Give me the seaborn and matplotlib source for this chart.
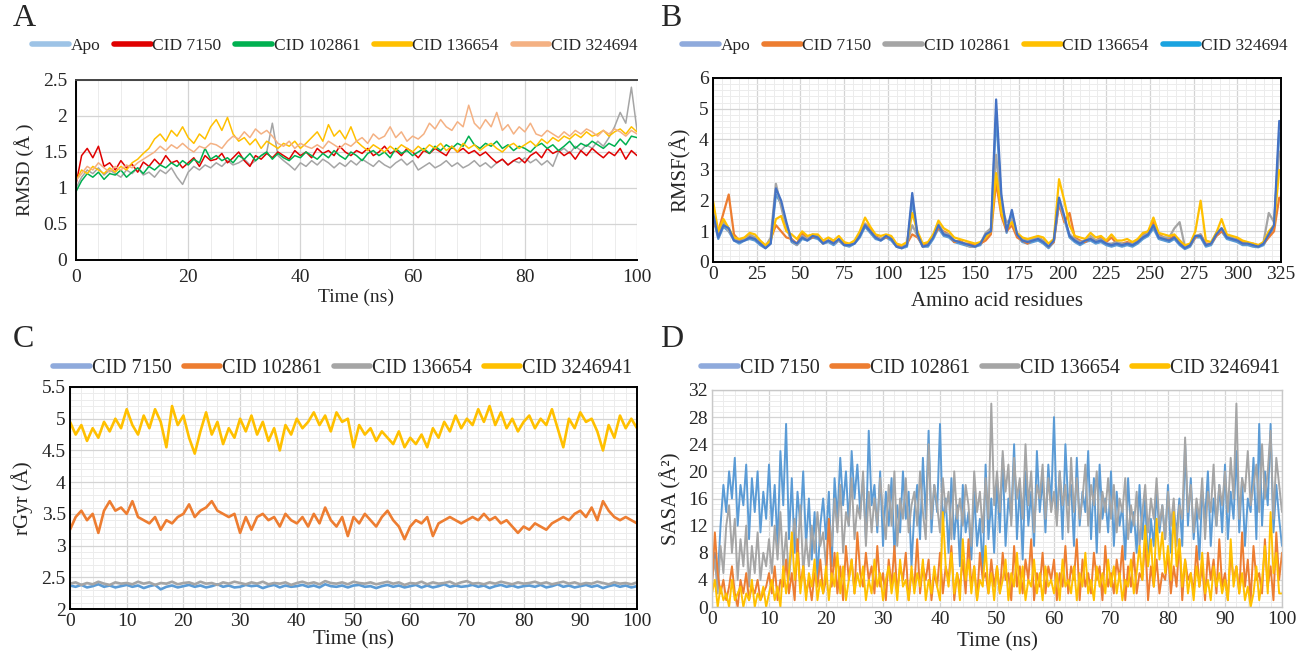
import numpy as np
import pandas as pd
import matplotlib
matplotlib.use("Agg")
import matplotlib.pyplot as plt
import seaborn as sns
from matplotlib.lines import Line2D
from matplotlib.ticker import MultipleLocator, FormatStrFormatter

# ---------------- Panel A: RMSD (Å), one value per ns ----------------
time_a = np.arange(0, 101, 1)

rmsd_apo = [1.00, 1.15, 1.25, 1.20, 1.28, 1.18, 1.25, 1.20, 1.15, 1.25,
            1.20, 1.28, 1.18, 1.22, 1.15, 1.25, 1.20, 1.28, 1.15, 1.05,
            1.22, 1.30, 1.25, 1.32, 1.28, 1.35, 1.30, 1.38, 1.32, 1.35,
            1.40, 1.32, 1.38, 1.45, 1.50, 1.90, 1.45, 1.38, 1.32, 1.25,
            1.35, 1.30, 1.38, 1.32, 1.40, 1.35, 1.28, 1.35, 1.30, 1.38,
            1.32, 1.40, 1.35, 1.30, 1.38, 1.32, 1.28, 1.35, 1.40, 1.32,
            1.38, 1.25, 1.30, 1.35, 1.28, 1.32, 1.38, 1.30, 1.35, 1.28,
            1.32, 1.38, 1.30, 1.35, 1.28, 1.35, 1.40, 1.32, 1.38, 1.35,
            1.42, 1.35, 1.40, 1.32, 1.38, 1.30, 1.50, 1.55, 1.48, 1.58,
            1.52, 1.60, 1.55, 1.65, 1.58, 1.70, 1.85, 2.05, 1.90, 2.40,
            1.80]
rmsd_7150 = [1.05, 1.45, 1.55, 1.42, 1.58, 1.30, 1.35, 1.25, 1.38, 1.28,
             1.33, 1.22, 1.36, 1.30, 1.40, 1.32, 1.45, 1.35, 1.38, 1.28,
             1.35, 1.42, 1.30, 1.45, 1.38, 1.40, 1.48, 1.35, 1.42, 1.50,
             1.38, 1.30, 1.45, 1.40, 1.48, 1.42, 1.50, 1.45, 1.40, 1.52,
             1.45, 1.50, 1.42, 1.55, 1.48, 1.52, 1.45, 1.58, 1.50, 1.45,
             1.52, 1.48, 1.55, 1.45, 1.50, 1.58, 1.48, 1.52, 1.45, 1.55,
             1.50, 1.42, 1.52, 1.48, 1.55, 1.50, 1.45, 1.58, 1.50, 1.55,
             1.48, 1.52, 1.45, 1.50, 1.42, 1.35, 1.40, 1.32, 1.38, 1.42,
             1.35, 1.45, 1.50, 1.42, 1.55, 1.48, 1.52, 1.45, 1.50, 1.40,
             1.52, 1.45, 1.55, 1.48, 1.42, 1.50, 1.45, 1.55, 1.40, 1.52,
             1.45]
rmsd_102861 = [0.95, 1.10, 1.20, 1.15, 1.22, 1.12, 1.20, 1.18, 1.25, 1.15,
               1.22, 1.28, 1.20, 1.30, 1.25, 1.32, 1.28, 1.35, 1.30, 1.38,
               1.32, 1.40, 1.35, 1.55, 1.40, 1.45, 1.38, 1.42, 1.35, 1.45,
               1.40, 1.48, 1.38, 1.45, 1.50, 1.40, 1.48, 1.42, 1.38, 1.45,
               1.42, 1.50, 1.45, 1.40, 1.48, 1.42, 1.52, 1.45, 1.40, 1.50,
               1.45, 1.38, 1.48, 1.52, 1.45, 1.50, 1.42, 1.55, 1.48, 1.52,
               1.45, 1.50, 1.55, 1.48, 1.58, 1.52, 1.60, 1.55, 1.62, 1.58,
               1.72, 1.60, 1.55, 1.62, 1.58, 1.65, 1.55, 1.60, 1.52, 1.58,
               1.55, 1.50, 1.58, 1.62, 1.55, 1.60, 1.52, 1.58, 1.65, 1.55,
               1.62, 1.58, 1.65, 1.60, 1.55, 1.62, 1.58, 1.68, 1.60, 1.72,
               1.70]
rmsd_136654 = [1.10, 1.25, 1.20, 1.30, 1.25, 1.20, 1.28, 1.22, 1.30, 1.25,
               1.35, 1.40, 1.48, 1.55, 1.68, 1.75, 1.65, 1.80, 1.72, 1.85,
               1.70, 1.62, 1.75, 1.68, 1.85, 1.95, 1.80, 1.98, 1.75, 1.65,
               1.70, 1.60, 1.68, 1.55, 1.65, 1.60, 1.55, 1.62, 1.58, 1.65,
               1.55, 1.62, 1.70, 1.78, 1.65, 1.88, 1.72, 1.80, 1.68, 1.85,
               1.65, 1.58, 1.52, 1.60, 1.55, 1.50, 1.58, 1.52, 1.60, 1.55,
               1.50, 1.58, 1.52, 1.60, 1.55, 1.62, 1.52, 1.58, 1.50, 1.62,
               1.55, 1.60, 1.52, 1.58, 1.62, 1.55, 1.50, 1.58, 1.62, 1.55,
               1.60, 1.65, 1.58, 1.68, 1.62, 1.70, 1.65, 1.72, 1.68, 1.75,
               1.70, 1.78, 1.72, 1.75, 1.80, 1.72, 1.78, 1.82, 1.75, 1.85,
               1.78]
rmsd_324694 = [1.10, 1.20, 1.30, 1.25, 1.35, 1.28, 1.22, 1.30, 1.25, 1.32,
               1.28, 1.35, 1.40, 1.45, 1.50, 1.58, 1.52, 1.60, 1.55, 1.62,
               1.55, 1.50, 1.58, 1.55, 1.62, 1.60, 1.55, 1.65, 1.72, 1.68,
               1.78, 1.70, 1.82, 1.75, 1.80, 1.72, 1.62, 1.58, 1.65, 1.55,
               1.62, 1.58, 1.55, 1.60, 1.55, 1.65, 1.60, 1.55, 1.62, 1.58,
               1.65, 1.70, 1.62, 1.75, 1.68, 1.72, 1.85, 1.70, 1.78, 1.65,
               1.72, 1.68, 1.75, 1.90, 1.82, 1.95, 1.85, 1.80, 1.92, 1.85,
               2.15, 1.90, 1.82, 1.95, 1.85, 2.05, 1.80, 1.88, 1.75, 1.85,
               1.78, 1.90, 1.75, 1.72, 1.80, 1.75, 1.70, 1.78, 1.72, 1.80,
               1.75, 1.82, 1.78, 1.72, 1.80, 1.75, 1.82, 1.78, 1.72, 1.80,
               1.75]

# ---------------- Panel B: RMSF (Å), every third residue ----------------
residues = np.arange(0, 326, 3)

rmsf_apo = [1.6, 0.8, 1.2, 1.1, 0.7, 0.65, 0.7, 0.8, 0.75, 0.6,
            0.45, 0.6, 2.4, 2.0, 1.3, 0.7, 0.6, 0.8, 0.7, 0.85,
            0.8, 0.6, 0.7, 0.6, 0.75, 0.55, 0.55, 0.6, 0.85, 1.2,
            1.0, 0.8, 0.7, 0.85, 0.75, 0.5, 0.45, 0.55, 2.25, 0.9,
            0.5, 0.55, 0.8, 1.2, 0.9, 0.85, 0.7, 0.65, 0.6, 0.55,
            0.5, 0.6, 0.9, 1.0, 5.3, 2.2, 1.0, 1.7, 0.9, 0.7,
            0.65, 0.7, 0.75, 0.65, 0.5, 0.7, 2.1, 1.5, 0.85, 0.7,
            0.6, 0.7, 0.75, 0.65, 0.7, 0.6, 0.55, 0.6, 0.55, 0.6,
            0.55, 0.65, 0.8, 0.9, 1.2, 0.8, 0.75, 0.7, 0.8, 0.6,
            0.45, 0.55, 0.85, 0.85, 0.55, 0.6, 0.9, 1.1, 0.8, 0.75,
            0.7, 0.6, 0.6, 0.55, 0.5, 0.6, 0.9, 1.2, 4.6]
rmsf_7150 = [1.3, 1.0, 1.6, 2.2, 0.9, 0.7, 0.75, 0.85, 0.8, 0.65,
             0.5, 0.75, 1.2, 1.0, 0.8, 0.75, 0.6, 0.95, 0.75, 0.8,
             0.85, 0.65, 0.7, 0.65, 0.7, 0.6, 0.55, 0.65, 0.9, 1.25,
             1.1, 0.85, 0.75, 0.8, 0.8, 0.55, 0.5, 0.6, 0.9, 0.8,
             0.55, 0.6, 0.85, 1.1, 1.0, 0.9, 0.65, 0.7, 0.6, 0.6,
             0.55, 0.6, 0.7, 0.9, 2.6, 1.5, 1.0, 1.2, 0.8, 0.7,
             0.6, 0.75, 0.8, 0.7, 0.5, 0.65, 1.9, 1.3, 1.6, 0.8,
             0.7, 0.65, 0.8, 0.7, 0.8, 0.65, 0.8, 0.6, 0.6, 0.65,
             0.6, 0.7, 0.9, 1.0, 1.3, 0.9, 0.8, 0.75, 0.85, 0.7,
             0.5, 0.55, 0.8, 0.9, 0.6, 0.6, 0.85, 1.0, 0.85, 0.75,
             0.75, 0.65, 0.6, 0.6, 0.55, 0.6, 0.8, 1.0, 2.1]
rmsf_102861 = [1.5, 0.9, 1.3, 1.0, 0.8, 0.65, 0.75, 0.9, 0.8, 0.6,
               0.5, 0.8, 2.55, 1.8, 1.1, 0.7, 0.55, 0.85, 0.75, 0.9,
               0.85, 0.6, 0.7, 0.6, 0.7, 0.55, 0.55, 0.65, 0.9, 1.25,
               1.0, 0.8, 0.75, 0.85, 0.8, 0.5, 0.45, 0.6, 1.2, 0.85,
               0.5, 0.55, 0.85, 1.25, 0.95, 0.9, 0.7, 0.65, 0.6, 0.5,
               0.5, 0.6, 0.95, 1.1, 3.5, 1.8, 1.3, 1.4, 0.9, 0.75,
               0.7, 0.75, 0.8, 0.7, 0.5, 0.7, 2.0, 1.4, 0.9, 0.75,
               0.65, 0.7, 0.85, 0.7, 0.75, 0.6, 0.6, 0.65, 0.6, 0.6,
               0.6, 0.65, 0.85, 0.95, 1.2, 0.85, 0.8, 0.8, 1.1, 1.3,
               0.5, 0.55, 0.85, 0.9, 0.55, 0.6, 0.95, 1.1, 0.85, 0.8,
               0.7, 0.6, 0.6, 0.55, 0.5, 0.65, 1.6, 1.3, 3.6]
rmsf_136654 = [2.0, 1.0, 1.4, 1.1, 0.8, 0.75, 0.8, 0.95, 0.9, 0.7,
               0.55, 0.7, 1.4, 1.5, 1.0, 0.9, 0.75, 1.0, 0.85, 0.9,
               0.9, 0.7, 0.8, 0.7, 0.85, 0.65, 0.6, 0.7, 1.0, 1.45,
               1.15, 0.9, 0.85, 0.9, 0.85, 0.6, 0.55, 0.65, 1.6, 1.0,
               0.6, 0.65, 0.9, 1.35, 1.1, 1.0, 0.8, 0.75, 0.7, 0.65,
               0.6, 0.65, 0.8, 1.0, 2.9, 1.6, 1.1, 1.3, 0.95, 0.8,
               0.75, 0.8, 0.85, 0.8, 0.6, 0.75, 2.7, 2.0, 1.2, 0.85,
               0.8, 0.75, 0.95, 0.8, 0.85, 0.7, 0.9, 0.7, 0.7, 0.75,
               0.65, 0.75, 0.95, 1.0, 1.45, 0.95, 0.9, 0.85, 0.9, 0.7,
               0.55, 0.6, 1.0, 2.0, 0.7, 0.65, 0.95, 1.4, 0.9, 0.85,
               0.8, 0.7, 0.65, 0.6, 0.55, 0.65, 1.0, 1.2, 3.0]
rmsf_324694 = [1.5, 0.75, 1.15, 1.0, 0.7, 0.6, 0.7, 0.75, 0.7, 0.55,
               0.45, 0.6, 2.2, 1.9, 1.2, 0.65, 0.55, 0.75, 0.7, 0.8,
               0.75, 0.6, 0.65, 0.55, 0.7, 0.55, 0.5, 0.6, 0.8, 1.15,
               0.95, 0.75, 0.7, 0.8, 0.7, 0.5, 0.45, 0.5, 2.0, 0.85,
               0.5, 0.5, 0.75, 1.1, 0.85, 0.8, 0.65, 0.6, 0.55, 0.5,
               0.5, 0.55, 0.85, 0.95, 4.8, 2.0, 0.95, 1.6, 0.85, 0.65,
               0.6, 0.65, 0.7, 0.6, 0.45, 0.65, 2.0, 1.4, 0.8, 0.65,
               0.55, 0.65, 0.7, 0.6, 0.65, 0.55, 0.5, 0.55, 0.5, 0.55,
               0.5, 0.6, 0.75, 0.85, 1.1, 0.75, 0.7, 0.65, 0.75, 0.55,
               0.42, 0.5, 0.8, 0.8, 0.5, 0.55, 0.85, 1.0, 0.75, 0.7,
               0.65, 0.55, 0.55, 0.5, 0.48, 0.55, 0.85, 1.1, 4.2]

# ---------------- Panel C: rGyr (Å), one value per ns ----------------
time_c = np.arange(0, 101, 1)

rgyr_7150 = [2.37, 2.35, 2.38, 2.34, 2.36, 2.39, 2.35, 2.37, 2.34, 2.36,
             2.38, 2.35, 2.37, 2.33, 2.36, 2.38, 2.31, 2.35, 2.37, 2.34,
             2.36, 2.38, 2.35, 2.37, 2.34, 2.36, 2.39, 2.35, 2.37, 2.34,
             2.35, 2.38, 2.36, 2.37, 2.33, 2.36, 2.38, 2.34, 2.37, 2.35,
             2.36, 2.38, 2.35, 2.37, 2.34, 2.39, 2.36, 2.35, 2.37, 2.34,
             2.37, 2.38, 2.35, 2.36, 2.33, 2.36, 2.38, 2.35, 2.37, 2.34,
             2.36, 2.38, 2.34, 2.37, 2.34, 2.36, 2.39, 2.35, 2.37, 2.35,
             2.36, 2.38, 2.35, 2.37, 2.33, 2.36, 2.38, 2.35, 2.37, 2.34,
             2.36, 2.37, 2.35, 2.38, 2.34, 2.36, 2.39, 2.35, 2.37, 2.34,
             2.36, 2.38, 2.35, 2.37, 2.33, 2.36, 2.38, 2.35, 2.37, 2.34,
             2.36]
rgyr_102861 = [3.25, 3.45, 3.55, 3.40, 3.50, 3.20, 3.55, 3.70, 3.55, 3.60,
               3.50, 3.70, 3.45, 3.40, 3.35, 3.45, 3.25, 3.40, 3.35, 3.45,
               3.50, 3.65, 3.45, 3.55, 3.60, 3.70, 3.55, 3.50, 3.45, 3.50,
               3.20, 3.45, 3.25, 3.45, 3.50, 3.40, 3.45, 3.30, 3.50, 3.40,
               3.35, 3.45, 3.30, 3.50, 3.35, 3.60, 3.40, 3.30, 3.45, 3.15,
               3.45, 3.35, 3.50, 3.40, 3.30, 3.45, 3.55, 3.40, 3.30, 3.10,
               3.30, 3.40, 3.35, 3.45, 3.15, 3.35, 3.40, 3.45, 3.40, 3.35,
               3.40, 3.45, 3.40, 3.50, 3.40, 3.45, 3.35, 3.40, 3.30, 3.20,
               3.30, 3.25, 3.35, 3.30, 3.25, 3.35, 3.40, 3.45, 3.40, 3.50,
               3.55, 3.45, 3.60, 3.40, 3.70, 3.55, 3.45, 3.40, 3.45, 3.40,
               3.35]
rgyr_136654 = [2.40, 2.42, 2.38, 2.41, 2.39, 2.43, 2.40, 2.38, 2.42, 2.40,
               2.41, 2.39, 2.43, 2.40, 2.42, 2.38, 2.41, 2.40, 2.43, 2.39,
               2.41, 2.42, 2.39, 2.43, 2.40, 2.41, 2.38, 2.42, 2.40, 2.43,
               2.41, 2.39, 2.42, 2.40, 2.43, 2.39, 2.41, 2.40, 2.42, 2.38,
               2.41, 2.43, 2.40, 2.42, 2.39, 2.44, 2.41, 2.40, 2.42, 2.39,
               2.43, 2.41, 2.40, 2.42, 2.39, 2.41, 2.43, 2.40, 2.42, 2.38,
               2.41, 2.40, 2.43, 2.39, 2.42, 2.40, 2.41, 2.43, 2.39, 2.42,
               2.44, 2.40, 2.41, 2.39, 2.42, 2.40, 2.43, 2.41, 2.39, 2.42,
               2.40, 2.41, 2.43, 2.40, 2.42, 2.39, 2.41, 2.43, 2.40, 2.42,
               2.39, 2.41, 2.40, 2.43, 2.41, 2.39, 2.42, 2.40, 2.41, 2.39,
               2.42]
rgyr_3246941 = [4.95, 4.75, 4.90, 4.65, 4.85, 4.70, 4.95, 4.80, 5.00, 4.85,
                5.15, 4.90, 4.75, 5.05, 4.85, 5.15, 4.95, 4.55, 5.20, 4.90,
                5.05, 4.70, 4.45, 4.80, 5.10, 4.75, 4.95, 4.60, 4.85, 4.70,
                5.00, 4.80, 5.05, 4.75, 4.95, 4.65, 4.85, 4.50, 4.90, 4.75,
                5.00, 4.85, 4.95, 5.10, 4.90, 5.05, 4.80, 5.10, 4.95, 5.00,
                4.55, 4.90, 4.75, 4.85, 4.65, 4.80, 4.70, 4.60, 4.80, 4.55,
                4.70, 4.60, 4.75, 4.55, 4.85, 4.70, 4.95, 4.80, 5.05, 4.85,
                5.00, 4.90, 5.15, 4.95, 5.20, 4.90, 5.10, 4.85, 5.00, 4.80,
                4.95, 5.05, 4.85, 5.00, 4.90, 5.15, 4.85, 4.55, 5.00, 4.85,
                5.10, 4.95, 5.00, 4.80, 4.50, 4.90, 4.70, 5.05, 4.85, 5.00,
                4.85]

# ---------------- Panel D: SASA (Å²), one value per 0.5 ns ----------------
time_d = np.arange(0, 100.5, 0.5)

sasa_7150 = [5, 8, 4, 12, 18, 14, 20, 16, 22, 12, 18, 15, 21, 10, 19, 14, 20, 11, 17, 13,
             21, 12, 18, 9, 23, 15, 27, 10, 19, 8, 17, 12, 20, 9, 16, 7, 14, 4, 12, 16,
             10, 17, 6, 19, 13, 22, 15, 20, 12, 23, 16, 21, 14, 19, 10, 26, 15, 18, 11, 20,
             9, 17, 12, 19, 8, 15, 11, 20, 13, 17, 6, 14, 18, 10, 22, 13, 26, 11, 18, 14,
             27, 12, 16, 8, 19, 10, 15, 6, 18, 11, 14, 7, 17, 9, 13, 5, 21, 10, 16, 8,
             19, 11, 22, 9, 16, 13, 24, 10, 18, 7, 20, 12, 17, 9, 23, 14, 19, 11, 21, 15,
             28, 13, 20, 10, 24, 15, 18, 9, 22, 12, 17, 14, 23, 10, 19, 8, 21, 13, 16, 11,
             20, 9, 17, 12, 15, 7, 19, 11, 14, 8, 18, 10, 16, 6, 13, 9, 17, 11, 15, 10,
             18, 8, 14, 11, 16, 9, 24, 12, 19, 10, 15, 7, 17, 13, 20, 9, 16, 12, 18, 11,
             21, 10, 17, 13, 23, 11, 19, 9, 16, 14, 22, 10, 27, 12, 20, 15, 27, 11, 18, 13,
             9]
sasa_102861 = [3, 11, 5, 2, 4, 1, 3, 6, 2, 0, 4, 2, 5, 1, 3, 2, 4, 1, 2, 3,
               5, 2, 6, 1, 4, 3, 7, 2, 5, 1, 10, 3, 6, 2, 4, 1, 5, 3, 7, 2,
               4, 13, 3, 8, 2, 6, 1, 9, 4, 7, 2, 11, 5, 3, 8, 4, 6, 2, 9, 3,
               5, 1, 7, 3, 9, 2, 6, 4, 8, 1, 5, 3, 10, 2, 6, 4, 7, 1, 5, 3,
               8, 2, 6, 4, 9, 1, 5, 3, 7, 2, 10, 3, 6, 1, 8, 4, 5, 2, 7, 3,
               6, 2, 8, 4, 5, 1, 9, 3, 6, 2, 7, 4, 10, 1, 5, 3, 8, 2, 6, 4,
               7, 1, 5, 3, 9, 2, 6, 4, 10, 1, 7, 3, 5, 2, 8, 4, 6, 1, 9, 3,
               5, 2, 7, 4, 9, 1, 6, 3, 8, 2, 5, 4, 10, 1, 6, 3, 7, 2, 5, 4,
               8, 2, 6, 3, 10, 1, 7, 4, 5, 2, 9, 3, 6, 1, 8, 4, 7, 2, 10, 3,
               5, 1, 8, 4, 6, 2, 11, 3, 7, 1, 9, 4, 5, 2, 10, 3, 6, 1, 11, 4,
               8]
sasa_136654 = [4, 7, 2, 9, 5, 12, 15, 8, 13, 4, 10, 6, 12, 3, 9, 5, 11, 4, 8, 6,
               10, 5, 12, 7, 14, 6, 11, 4, 9, 13, 7, 15, 5, 10, 6, 12, 8, 14, 9, 11,
               6, 13, 9, 16, 11, 18, 8, 14, 12, 19, 10, 15, 13, 20, 9, 17, 11, 16, 12, 19,
               14, 10, 18, 12, 20, 9, 16, 13, 19, 11, 15, 17, 12, 20, 14, 10, 24, 13, 18, 15,
               11, 19, 14, 17, 10, 20, 13, 16, 12, 18, 15, 9, 20, 14, 17, 11, 19, 13, 30, 15,
               20, 14, 23, 17, 21, 12, 22, 16, 19, 13, 24, 15, 20, 11, 18, 16, 21, 13, 19, 14,
               17, 12, 20, 15, 18, 11, 22, 14, 19, 13, 16, 21, 12, 18, 15, 20, 11, 17, 14, 19,
               13, 18, 11, 16, 14, 19, 10, 15, 12, 17, 9, 14, 18, 11, 16, 13, 19, 12, 15, 10,
               17, 12, 16, 9, 15, 13, 25, 14, 18, 11, 16, 13, 19, 10, 17, 14, 21, 12, 18, 15,
               20, 14, 22, 16, 30, 13, 19, 17, 23, 15, 18, 21, 14, 24, 16, 20, 26, 13, 22, 18,
               14]
sasa_3246941 = [2, 4, 0, 3, 1, 2, 0, 4, 1, 2, 3, 0, 2, 1, 4, 0, 2, 1, 3, 0,
                2, 4, 1, 3, 0, 6, 2, 5, 11, 4, 8, 2, 6, 1, 5, 3, 7, 1, 4, 2,
                6, 1, 5, 3, 8, 2, 6, 1, 4, 7, 2, 5, 3, 6, 1, 4, 2, 7, 3, 5,
                1, 4, 6, 2, 5, 1, 7, 3, 4, 1, 6, 2, 5, 3, 7, 1, 4, 2, 6, 3,
                1, 14, 6, 3, 8, 2, 5, 1, 10, 4, 7, 2, 6, 1, 4, 3, 9, 2, 5, 1,
                6, 2, 4, 7, 1, 5, 3, 8, 2, 6, 1, 4, 3, 7, 2, 5, 1, 6, 3, 4,
                2, 5, 1, 7, 3, 4, 2, 6, 1, 5, 3, 8, 2, 4, 1, 6, 3, 5, 2, 7,
                3, 6, 2, 5, 1, 4, 3, 7, 2, 5, 9, 4, 12, 6, 10, 3, 13, 7, 11, 5,
                9, 4, 14, 6, 10, 3, 7, 2, 5, 1, 6, 3, 8, 2, 4, 1, 6, 3, 5, 2,
                4, 1, 10, 3, 6, 2, 5, 1, 3, 0, 2, 6, 1, 4, 9, 2, 14, 5, 8, 2,
                2]


def long_form(x, series, xname, yname):
    frames = []
    for name, values in series.items():
        frames.append(pd.DataFrame({xname: x, yname: values, "series": name}))
    return pd.concat(frames, ignore_index=True)


def style_axes(ax, xmaj, xmin, ymaj, ymin, frame="black", minor_grid=True):
    ax.xaxis.set_major_locator(MultipleLocator(xmaj))
    ax.xaxis.set_minor_locator(MultipleLocator(xmin))
    ax.yaxis.set_major_locator(MultipleLocator(ymaj))
    ax.yaxis.set_minor_locator(MultipleLocator(ymin))
    ax.xaxis.set_major_formatter(FormatStrFormatter("%g"))
    ax.yaxis.set_major_formatter(FormatStrFormatter("%g"))
    ax.grid(which="major", color="#d4d4d4", linewidth=0.9)
    if minor_grid:
        ax.grid(which="minor", color="#ececec", linewidth=0.7)
    ax.set_axisbelow(True)
    for s in ax.spines.values():
        s.set_color(frame)
        s.set_linewidth(1.4 if frame == "black" else 1.0)
    ax.tick_params(which="both", length=0, labelsize=14, pad=3)


def add_legend(fig, labels, colors, cx, cy, size, handlelength, spacing):
    handles = [Line2D([], [], color=c, linewidth=4) for c in colors]
    fig.legend(handles, labels, loc="center", bbox_to_anchor=(cx, cy), ncol=len(labels),
               frameon=False, fontsize=size, handlelength=handlelength, handletextpad=0.1,
               columnspacing=spacing, borderaxespad=0, borderpad=0)


sns.set_theme(style="white")
plt.rcParams["font.family"] = ["Liberation Serif", "DejaVu Serif"]

W, H = 1297, 654
fig = plt.figure(figsize=(W / 100, H / 100), dpi=100)


def rect(l, r, t, b):
    return [l / W, 1 - b / H, (r - l) / W, (b - t) / H]


# ---- A ----
ax_a = fig.add_axes(rect(76, 637, 80, 260))
df_a = long_form(time_a, {"Apo": rmsd_apo, "CID 7150": rmsd_7150, "CID 102861": rmsd_102861,
                          "CID 136654": rmsd_136654, "CID 324694": rmsd_324694}, "Time", "RMSD")
pal_a = {"Apo": "#a5a5a5", "CID 7150": "#e00000", "CID 102861": "#00b050",
         "CID 136654": "#ffc000", "CID 324694": "#f4b183"}
sns.lineplot(data=df_a, x="Time", y="RMSD", hue="series", palette=pal_a, estimator=None,
             sort=False, linewidth=1.1, legend=False, ax=ax_a)
ax_a.set_xlim(0, 100)
ax_a.set_ylim(0, 2.5)
style_axes(ax_a, 20, 4, 0.5, 0.25)
ax_a.grid(which="minor", axis="y", visible=False)
ax_a.spines["right"].set_visible(False)
ax_a.spines["top"].set_color("#444444")
ax_a.tick_params(which="both", length=7, width=1.2, direction="inout", color="black")
ax_a.set_xlabel("Time (ns)", fontsize=14, labelpad=2)
ax_a.set_ylabel("RMSD (Å )", fontsize=14, labelpad=6)
add_legend(fig, ["Apo", "CID 7150", "CID 102861", "CID 136654", "CID 324694"],
           ["#9dc3e6", "#e00000", "#00b050", "#ffc000", "#f4b183"],
           335 / W, 1 - 46 / H, 12.5, 2.1, 0.8)

# ---- B ----
ax_b = fig.add_axes(rect(713, 1281, 78, 262))
df_b = long_form(residues, {"CID 324694": rmsf_324694, "CID 7150": rmsf_7150,
                            "CID 102861": rmsf_102861, "CID 136654": rmsf_136654,
                            "Apo": rmsf_apo}, "Residue", "RMSF")
pal_b = {"CID 324694": "#5b9bd5", "CID 7150": "#ed7d31", "CID 102861": "#a5a5a5",
         "CID 136654": "#ffc000", "Apo": "#4472c4"}
sns.lineplot(data=df_b, x="Residue", y="RMSF", hue="series", palette=pal_b, estimator=None,
             sort=False, linewidth=1.6, legend=False, ax=ax_b)
ax_b.set_xlim(0, 325)
ax_b.set_ylim(0, 6)
style_axes(ax_b, 25, 5, 1, 0.2)
ax_b.set_xlabel("Amino acid residues", fontsize=15, labelpad=6)
ax_b.set_ylabel("RMSF(Å)", fontsize=15, labelpad=6)
add_legend(fig, ["Apo", "CID 7150", "CID 102861", "CID 136654", "CID 324694"],
           ["#8faadc", "#ed7d31", "#a5a5a5", "#ffc000", "#1aa3e0"],
           985 / W, 1 - 46 / H, 12.5, 2.1, 0.8)

# ---- C ----
ax_c = fig.add_axes(rect(70, 637, 387, 609))
df_c = long_form(time_c, {"CID 7150": rgyr_7150, "CID 136654": rgyr_136654,
                          "CID 102861": rgyr_102861, "CID 3246941": rgyr_3246941}, "Time", "rGyr")
pal_c = {"CID 7150": "#5b9bd5", "CID 102861": "#ed7d31", "CID 136654": "#a5a5a5",
         "CID 3246941": "#ffc000"}
sns.lineplot(data=df_c, x="Time", y="rGyr", hue="series", palette=pal_c, estimator=None,
             sort=False, linewidth=1.9, legend=False, ax=ax_c)
ax_c.set_xlim(0, 100)
ax_c.set_ylim(2, 5.5)
style_axes(ax_c, 10, 2, 0.5, 0.1)
ax_c.set_xlabel("Time (ns)", fontsize=15, labelpad=0)
ax_c.set_ylabel("rGyr (Å)", fontsize=15, labelpad=6)
add_legend(fig, ["CID 7150", "CID 102861", "CID 136654", "CID 3246941"],
           ["#8faadc", "#ed7d31", "#a5a5a5", "#ffc000"],
           343 / W, 1 - 368 / H, 14.5, 1.8, 0.6)

# ---- D ----
ax_d = fig.add_axes(rect(712, 1282, 390, 607))
df_d = long_form(time_d, {"CID 7150": sasa_7150, "CID 136654": sasa_136654,
                          "CID 102861": sasa_102861, "CID 3246941": sasa_3246941}, "Time", "SASA")
pal_d = {"CID 7150": "#5b9bd5", "CID 102861": "#ed7d31", "CID 136654": "#a5a5a5",
         "CID 3246941": "#ffc000"}
sns.lineplot(data=df_d, x="Time", y="SASA", hue="series", palette=pal_d, estimator=None,
             sort=False, linewidth=1.4, legend=False, ax=ax_d)
ax_d.set_xlim(0, 100)
ax_d.set_ylim(0, 32)
style_axes(ax_d, 10, 2, 4, 0.8, frame="#c8c8c8")
ax_d.set_xlabel("Time (ns)", fontsize=15, labelpad=3)
ax_d.set_ylabel("SASA (Å²)", fontsize=15, labelpad=5)
add_legend(fig, ["CID 7150", "CID 102861", "CID 136654", "CID 3246941"],
           ["#8faadc", "#ed7d31", "#a5a5a5", "#ffc000"],
           991 / W, 1 - 368 / H, 14.5, 1.8, 0.6)

# panel letters
for letter, x, y in [("A", 13, 18), ("B", 660, 18), ("C", 13, 340), ("D", 660, 340)]:
    fig.text(x / W, 1 - y / H, letter, fontsize=23, ha="left", va="center")

fig.savefig("out.png", dpi=100)
